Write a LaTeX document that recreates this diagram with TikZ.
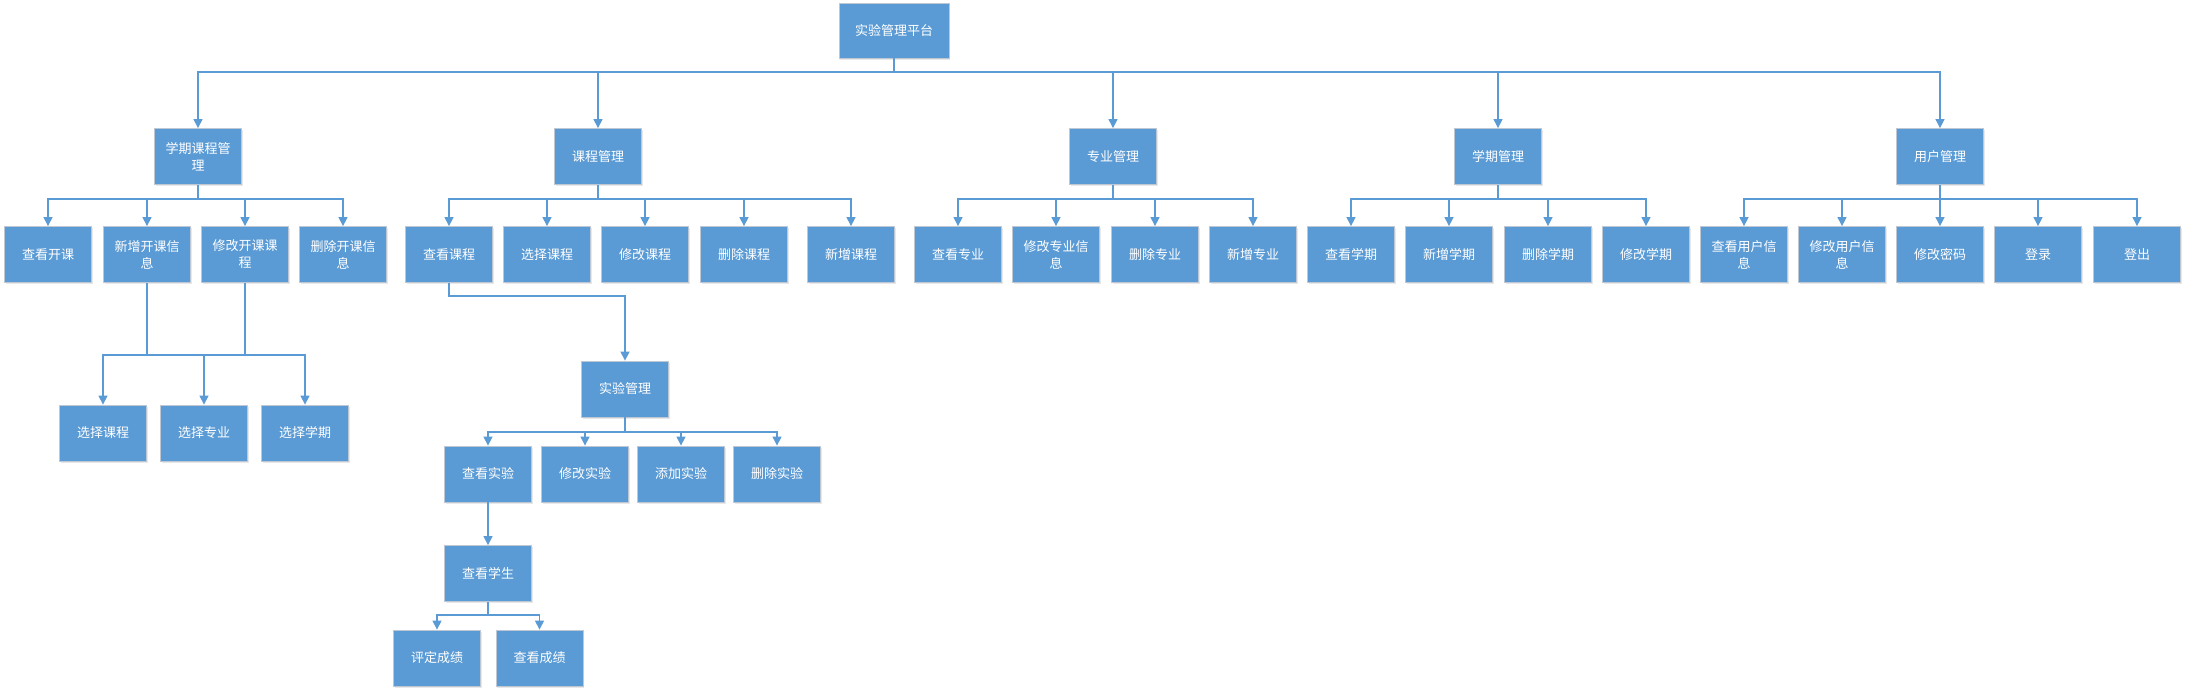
\documentclass[tikz,border=0pt]{standalone}
\usepackage{fontspec}
\setmainfont{Noto Sans CJK SC}
\usepackage{tikz}
\usetikzlibrary{
arrows.meta,
shadows,
}
\definecolor{boxblue}{RGB}{91,155,213}
\definecolor{boxline}{RGB}{190,200,212}
\definecolor{linkblue}{RGB}{91,155,213}

\begin{document}
\begin{tikzpicture}[x=1pt, y=-1pt,
  box/.style={draw=boxline, line width=0.8pt, fill=boxblue, text=white,
    minimum width=87pt, minimum height=56pt, inner sep=0pt, align=center,
    font=\fontsize{13}{17}\selectfont,
    drop shadow={opacity=0.18, shadow xshift=1.2pt, shadow yshift=-1.5pt}},
  link/.style={draw=linkblue, line width=1.2pt},
  tip/.style={-{Triangle[length=9pt,width=9pt]}},
  down/.style={link, tip, to path={-| (\tikztotarget)}}]
  \useasboundingbox (0,0) rectangle (2186,694);

  \node[box, minimum width=110pt, minimum height=55pt] (root) at (894,30.5) {实验管理平台};

  \node[box] (xqkc) at (198,156.5) {学期课程管\\理};
  \node[box] (kcgl) at (598,156.5) {课程管理};
  \node[box] (zygl) at (1113,156.5) {专业管理};
  \node[box] (xqgl) at (1498,156.5) {学期管理};
  \node[box] (yhgl) at (1940,156.5) {用户管理};

  \node[box] (ckkk) at (48,254.5) {查看开课};
  \node[box] (xzkk) at (147,254.5) {新增开课信\\息};
  \node[box] (xgkk) at (245,254.5) {修改开课课\\程};
  \node[box] (sckk) at (343,254.5) {删除开课信\\息};

  \node[box] (ckkc) at (449,254.5) {查看课程};
  \node[box] (xzkc) at (547,254.5) {选择课程};
  \node[box] (xgkc) at (645,254.5) {修改课程};
  \node[box] (sckc) at (744,254.5) {删除课程};
  \node[box] (xjkc) at (851,254.5) {新增课程};

  \node[box] (ckzy) at (958,254.5) {查看专业};
  \node[box] (xgzy) at (1056,254.5) {修改专业信\\息};
  \node[box] (sczy) at (1155,254.5) {删除专业};
  \node[box] (xjzy) at (1253,254.5) {新增专业};

  \node[box] (ckxq) at (1351,254.5) {查看学期};
  \node[box] (xjxq) at (1449,254.5) {新增学期};
  \node[box] (scxq) at (1548,254.5) {删除学期};
  \node[box] (xgxq) at (1646,254.5) {修改学期};

  \node[box] (ckyh) at (1744,254.5) {查看用户信\\息};
  \node[box] (xgyh) at (1842,254.5) {修改用户信\\息};
  \node[box] (xgmm) at (1940,254.5) {修改密码};
  \node[box] (dl) at (2038,254.5) {登录};
  \node[box] (dc) at (2137,254.5) {登出};

  \node[box] (xzkcb) at (103,433) {选择课程};
  \node[box] (xzzy) at (204,433) {选择专业};
  \node[box] (xzxq) at (305,433) {选择学期};

  \node[box] (sygl) at (625,389) {实验管理};
  \node[box] (cksy) at (488,474) {查看实验};
  \node[box] (xgsy) at (585,474) {修改实验};
  \node[box] (tjsy) at (681,474) {添加实验};
  \node[box] (scsy) at (777,474) {删除实验};

  \node[box] (ckxs) at (488,573.5) {查看学生};
  \node[box] (pdcj) at (437,658) {评定成绩};
  \node[box] (ckcj) at (539.5,658) {查看成绩};

  \coordinate (j0) at (894,72);
  \coordinate (j1) at (198,199);
  \coordinate (j2) at (598,199);
  \coordinate (j3) at (1113,199);
  \coordinate (j4) at (1498,199);
  \coordinate (j5) at (1940,199);
  \coordinate (j6) at (245,355);
  \coordinate (j7) at (625,296);
  \coordinate (j8) at (625,432);
  \coordinate (j9) at (488,615);

  \draw[link] (root.south) -- (j0);
  \draw[link] (j0) edge[down] (xqkc.north) edge[down] (kcgl.north) edge[down] (zygl.north)
    edge[down] (xqgl.north) edge[down] (yhgl.north);

  \draw[link] (xqkc.south) -- (j1);
  \draw[link] (j1) edge[down] (ckkk.north) edge[down] (xzkk.north) edge[down] (xgkk.north)
    edge[down] (sckk.north);

  \draw[link] (kcgl.south) -- (j2);
  \draw[link] (j2) edge[down] (ckkc.north) edge[down] (xzkc.north) edge[down] (xgkc.north)
    edge[down] (sckc.north) edge[down] (xjkc.north);

  \draw[link] (zygl.south) -- (j3);
  \draw[link] (j3) edge[down] (ckzy.north) edge[down] (xgzy.north) edge[down] (sczy.north)
    edge[down] (xjzy.north);

  \draw[link] (xqgl.south) -- (j4);
  \draw[link] (j4) edge[down] (ckxq.north) edge[down] (xjxq.north) edge[down] (scxq.north)
    edge[down] (xgxq.north);

  \draw[link] (yhgl.south) -- (j5);
  \draw[link] (j5) edge[down] (ckyh.north) edge[down] (xgyh.north) edge[down] (xgmm.north)
    edge[down] (dl.north) edge[down] (dc.north);

  \draw[link] (xzkk.south) |- (j6);
  \draw[link] (xgkk.south) -- (j6);
  \draw[link] (j6) edge[down] (xzkcb.north) edge[down] (xzzy.north) edge[down] (xzxq.north);

  \draw[link, tip] (ckkc.south) |- (j7) -- (sygl.north);

  \draw[link] (sygl.south) -- (j8);
  \draw[link] (j8) edge[down] (cksy.north) edge[down] (xgsy.north) edge[down] (tjsy.north)
    edge[down] (scsy.north);

  \draw[link, tip] (cksy.south) -- (ckxs.north);

  \draw[link] (ckxs.south) -- (j9);
  \draw[link] (j9) edge[down] (pdcj.north) edge[down] (ckcj.north);
\end{tikzpicture}
\end{document}
